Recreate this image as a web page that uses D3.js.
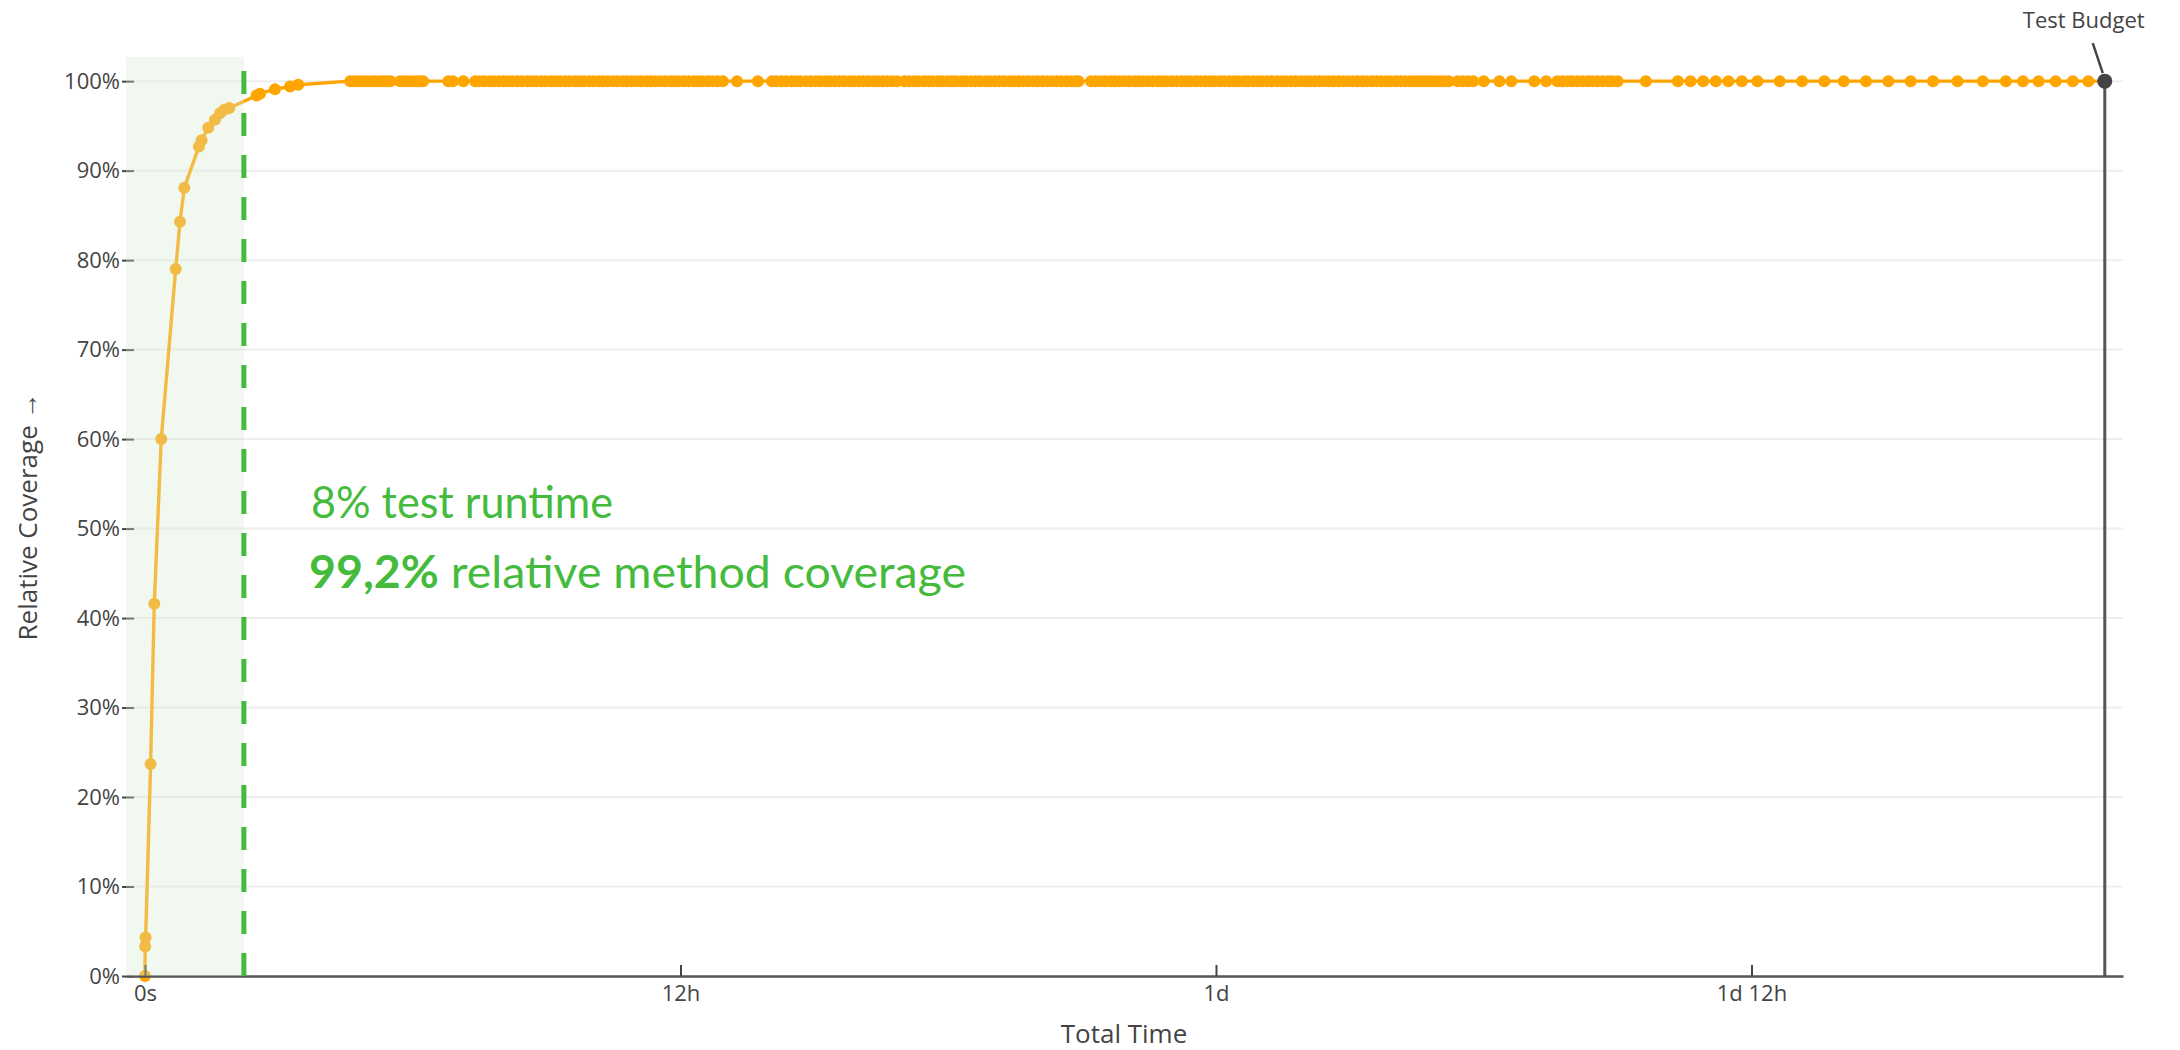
<!DOCTYPE html>
<html>
<head>
<meta charset="utf-8">
<script src="https://cdn.jsdelivr.net/npm/d3@7"></script>
<style>
  body { margin: 0; background: #fff; }
  text { font-family: "Open Sans", sans-serif; }
</style>
</head>
<body>
<div id="chart"></div>
<script>

// rising part of the curve: minutes since start / relative coverage in %
var riseMinutes = [0, 0.3, 0.9, 7.6, 12.5, 21.9, 41.3, 47.1, 52.9, 72.6, 76.2, 85.1, 94.1, 100.8, 106.6, 113.3, 150.2, 154.6, 174.8, 195, 206.1];
var risePct     = [0, 3.3, 4.3, 23.7, 41.6, 60.0, 79.0, 84.3, 88.1, 92.7, 93.4, 94.8, 95.7, 96.4, 96.8, 97.0, 98.4, 98.6, 99.1, 99.4, 99.6];

// every later test run sits at 100% (minutes)
var plateauMinutes = [
  276, 281, 287, 292, 298, 304, 309, 315, 320, 325, 330,
  343, 348, 354, 360, 366, 371, 374,
  408, 414, 428,
  444, 450, 456, 463, 469, 476, 482, 488, 494, 501, 507, 514, 520, 526, 533, 539, 546, 552, 558, 565,
  571, 578, 584, 590, 597, 603, 610, 616, 622, 629, 635, 642, 648, 654, 661, 667, 674, 680, 686, 693,
  699, 706, 712, 718, 725, 731, 738, 744, 750, 757, 763, 770, 777,
  796, 824,
  843, 849, 856, 862, 869, 875, 881,
  889, 895, 902, 908, 915, 921, 928, 934, 940, 947, 953, 960, 966, 972, 979, 985, 992, 998, 1004, 1011,
  1021, 1027, 1034, 1040, 1047, 1053, 1059, 1066, 1072, 1079, 1085, 1091, 1098, 1104, 1111, 1117, 1123,
  1130, 1136, 1143, 1149, 1155, 1162, 1168, 1175, 1181, 1187, 1194, 1200, 1207, 1213, 1219, 1226, 1232,
  1239, 1245, 1251, 1255,
  1272, 1278, 1285, 1291, 1298, 1304, 1310, 1317, 1323, 1330, 1336, 1342, 1349, 1355, 1362, 1368, 1374,
  1381, 1387, 1394, 1400, 1406, 1413, 1419, 1426, 1432, 1438, 1445, 1451, 1458, 1464, 1470, 1477, 1483,
  1490, 1496, 1502, 1509, 1515, 1522, 1528, 1534, 1541, 1547, 1554, 1560, 1566, 1573, 1579, 1586, 1592,
  1598, 1605, 1611, 1618, 1624, 1630, 1637, 1643, 1650, 1656, 1662, 1669, 1675, 1682, 1688, 1694, 1701,
  1707, 1712,
  1718, 1723, 1729, 1735, 1741, 1747, 1753,
  1765, 1772, 1779, 1786,
  1800, 1821, 1837, 1868, 1884,
  1899, 1906, 1913, 1919, 1926, 1933, 1940, 1946, 1953, 1960, 1967, 1973, 1980,
  2018, 2061, 2078, 2095, 2112, 2129, 2147, 2168, 2198, 2228, 2258, 2284, 2314, 2344, 2374, 2404,
  2437, 2471, 2502, 2525, 2546, 2569, 2592, 2613
];
var plateauPct = 100;

var budgetMinutes = 2635;
var budgetPct = 100;

// end of the highlighted "8% test runtime" region (minutes)
var cutMinutes = 133;

var yTicks = [0, 10, 20, 30, 40, 50, 60, 70, 80, 90, 100];
var xTicks = [0, 720, 1440, 2160];
var xTickLabels = ["0s", "12h", "1d", "1d 12h"];

// set the dimensions and the plot area
var width = 2180, height = 1050;
var plot = {left: 126, right: 2123, top: 57, bottom: 976};

var svg = d3.select("#chart").append("svg")
    .attr("width", width)
    .attr("height", height)
    .style("display", "block");

var x = d3.scaleLinear()
    .domain([-25.5, 2659.5])
    .range([plot.left, plot.right]);

var y = d3.scaleLinear()
    .domain([0, 102.7])
    .range([plot.bottom, plot.top]);

// build the point list
var points = riseMinutes.map(function(t, i) { return {t: t, p: risePct[i]}; });
plateauMinutes.forEach(function(t) { points.push({t: t, p: plateauPct}); });

// grid lines
svg.append("g")
  .selectAll("line")
  .data(yTicks.filter(function(d) { return d > 0; }))
  .enter().append("line")
    .attr("x1", plot.left)
    .attr("x2", plot.right)
    .attr("y1", function(d) { return y(d); })
    .attr("y2", function(d) { return y(d); })
    .attr("stroke", "#eeeeee")
    .attr("stroke-width", 2);

// y axis
var yAxis = svg.append("g")
    .attr("transform", "translate(134,0)")
    .call(d3.axisLeft(y)
      .tickValues(yTicks)
      .tickSize(12)
      .tickPadding(2)
      .tickFormat(function(d) { return d + "%"; }));
yAxis.select(".domain").remove();
yAxis.selectAll(".tick line").attr("stroke", "#444").attr("stroke-width", 2);
yAxis.selectAll(".tick text")
    .attr("fill", "#444")
    .style("font-size", "22px")
    .style("font-family", "'Open Sans', sans-serif");

// test budget vertical line (under the curve)
svg.append("line")
    .attr("x1", x(budgetMinutes))
    .attr("x2", x(budgetMinutes))
    .attr("y1", y(budgetPct))
    .attr("y2", y(0))
    .attr("stroke", "#555")
    .attr("stroke-width", 3);

// coverage curve
var line = d3.line()
    .x(function(d) { return x(d.t); })
    .y(function(d) { return y(d.p); });

svg.append("path")
    .datum(points.concat([{t: budgetMinutes, p: budgetPct}]))
    .attr("d", line)
    .attr("fill", "none")
    .attr("stroke", "#FFA500")
    .attr("stroke-width", 3.4);

svg.append("g")
  .selectAll("circle")
  .data(points)
  .enter().append("circle")
    .attr("cx", function(d) { return x(d.t); })
    .attr("cy", function(d) { return y(d.p); })
    .attr("r", 6)
    .attr("fill", "#FFA500");

// x axis
var xAxis = svg.append("g")
    .attr("transform", "translate(0," + plot.bottom + ")")
    .call(d3.axisBottom(x)
      .tickValues(xTicks)
      .tickSize(-11)
      .tickSizeOuter(0)
      .tickPadding(9)
      .tickFormat(function(d, i) { return xTickLabels[i]; }));
xAxis.select(".domain").attr("stroke", "#555").attr("stroke-width", 2.5);
xAxis.selectAll(".tick line").attr("stroke", "#444").attr("stroke-width", 2);
xAxis.selectAll(".tick text")
    .attr("fill", "#444")
    .style("font-size", "22px")
    .style("font-family", "'Open Sans', sans-serif");

// highlighted region, drawn on top so the curve shows through lighter
svg.append("rect")
    .attr("x", plot.left)
    .attr("y", plot.top)
    .attr("width", x(cutMinutes) - plot.left)
    .attr("height", plot.bottom - plot.top)
    .attr("fill", "rgb(213,234,210)")
    .attr("fill-opacity", 0.33);

// dashed cut line, dashes start at the bottom
svg.append("line")
    .attr("x1", x(cutMinutes))
    .attr("x2", x(cutMinutes))
    .attr("y1", plot.bottom)
    .attr("y2", plot.top)
    .attr("stroke", "#44bb3c")
    .attr("stroke-width", 5)
    .attr("stroke-dasharray", "23,19");

// test budget marker + label
var bx = x(budgetMinutes), by = y(budgetPct);
svg.append("circle")
    .attr("cx", bx)
    .attr("cy", by)
    .attr("r", 7.5)
    .attr("fill", "#444");
svg.append("line")
    .attr("x1", bx - 12)
    .attr("y1", by - 38)
    .attr("x2", bx - 2)
    .attr("y2", by - 8)
    .attr("stroke", "#444")
    .attr("stroke-width", 2.5);
svg.append("text")
    .attr("x", bx - 21)
    .attr("y", 28)
    .attr("text-anchor", "middle")
    .attr("fill", "#444")
    .style("font-size", "22px")
    .text("Test Budget");

// axis titles
svg.append("text")
    .attr("x", 1124)
    .attr("y", 1043)
    .attr("text-anchor", "middle")
    .attr("fill", "#444")
    .style("font-size", "26px")
    .text("Total Time");

svg.append("text")
    .attr("transform", "translate(37," + (plot.top + plot.bottom) / 2 + ") rotate(-90)")
    .attr("text-anchor", "middle")
    .attr("fill", "#444")
    .style("font-size", "26px")
    .text("Relative Coverage \u2192");

// green annotation
svg.append("text")
    .attr("x", 311)
    .attr("y", 518)
    .attr("fill", "#44bb3c")
    .attr("textLength", 302)
    .attr("lengthAdjust", "spacingAndGlyphs")
    .style("font-family", "Lato, sans-serif")
    .style("font-size", "45px")
    .text("8% test runtime");

var note2 = svg.append("text")
    .attr("x", 309)
    .attr("y", 588)
    .attr("fill", "#44bb3c")
    .attr("textLength", 657)
    .attr("lengthAdjust", "spacingAndGlyphs")
    .style("font-family", "Lato, sans-serif")
    .style("font-size", "45px");
note2.append("tspan").style("font-weight", "bold").text("99,2%");
note2.append("tspan").text(" relative method coverage");

</script>
</body>
</html>
